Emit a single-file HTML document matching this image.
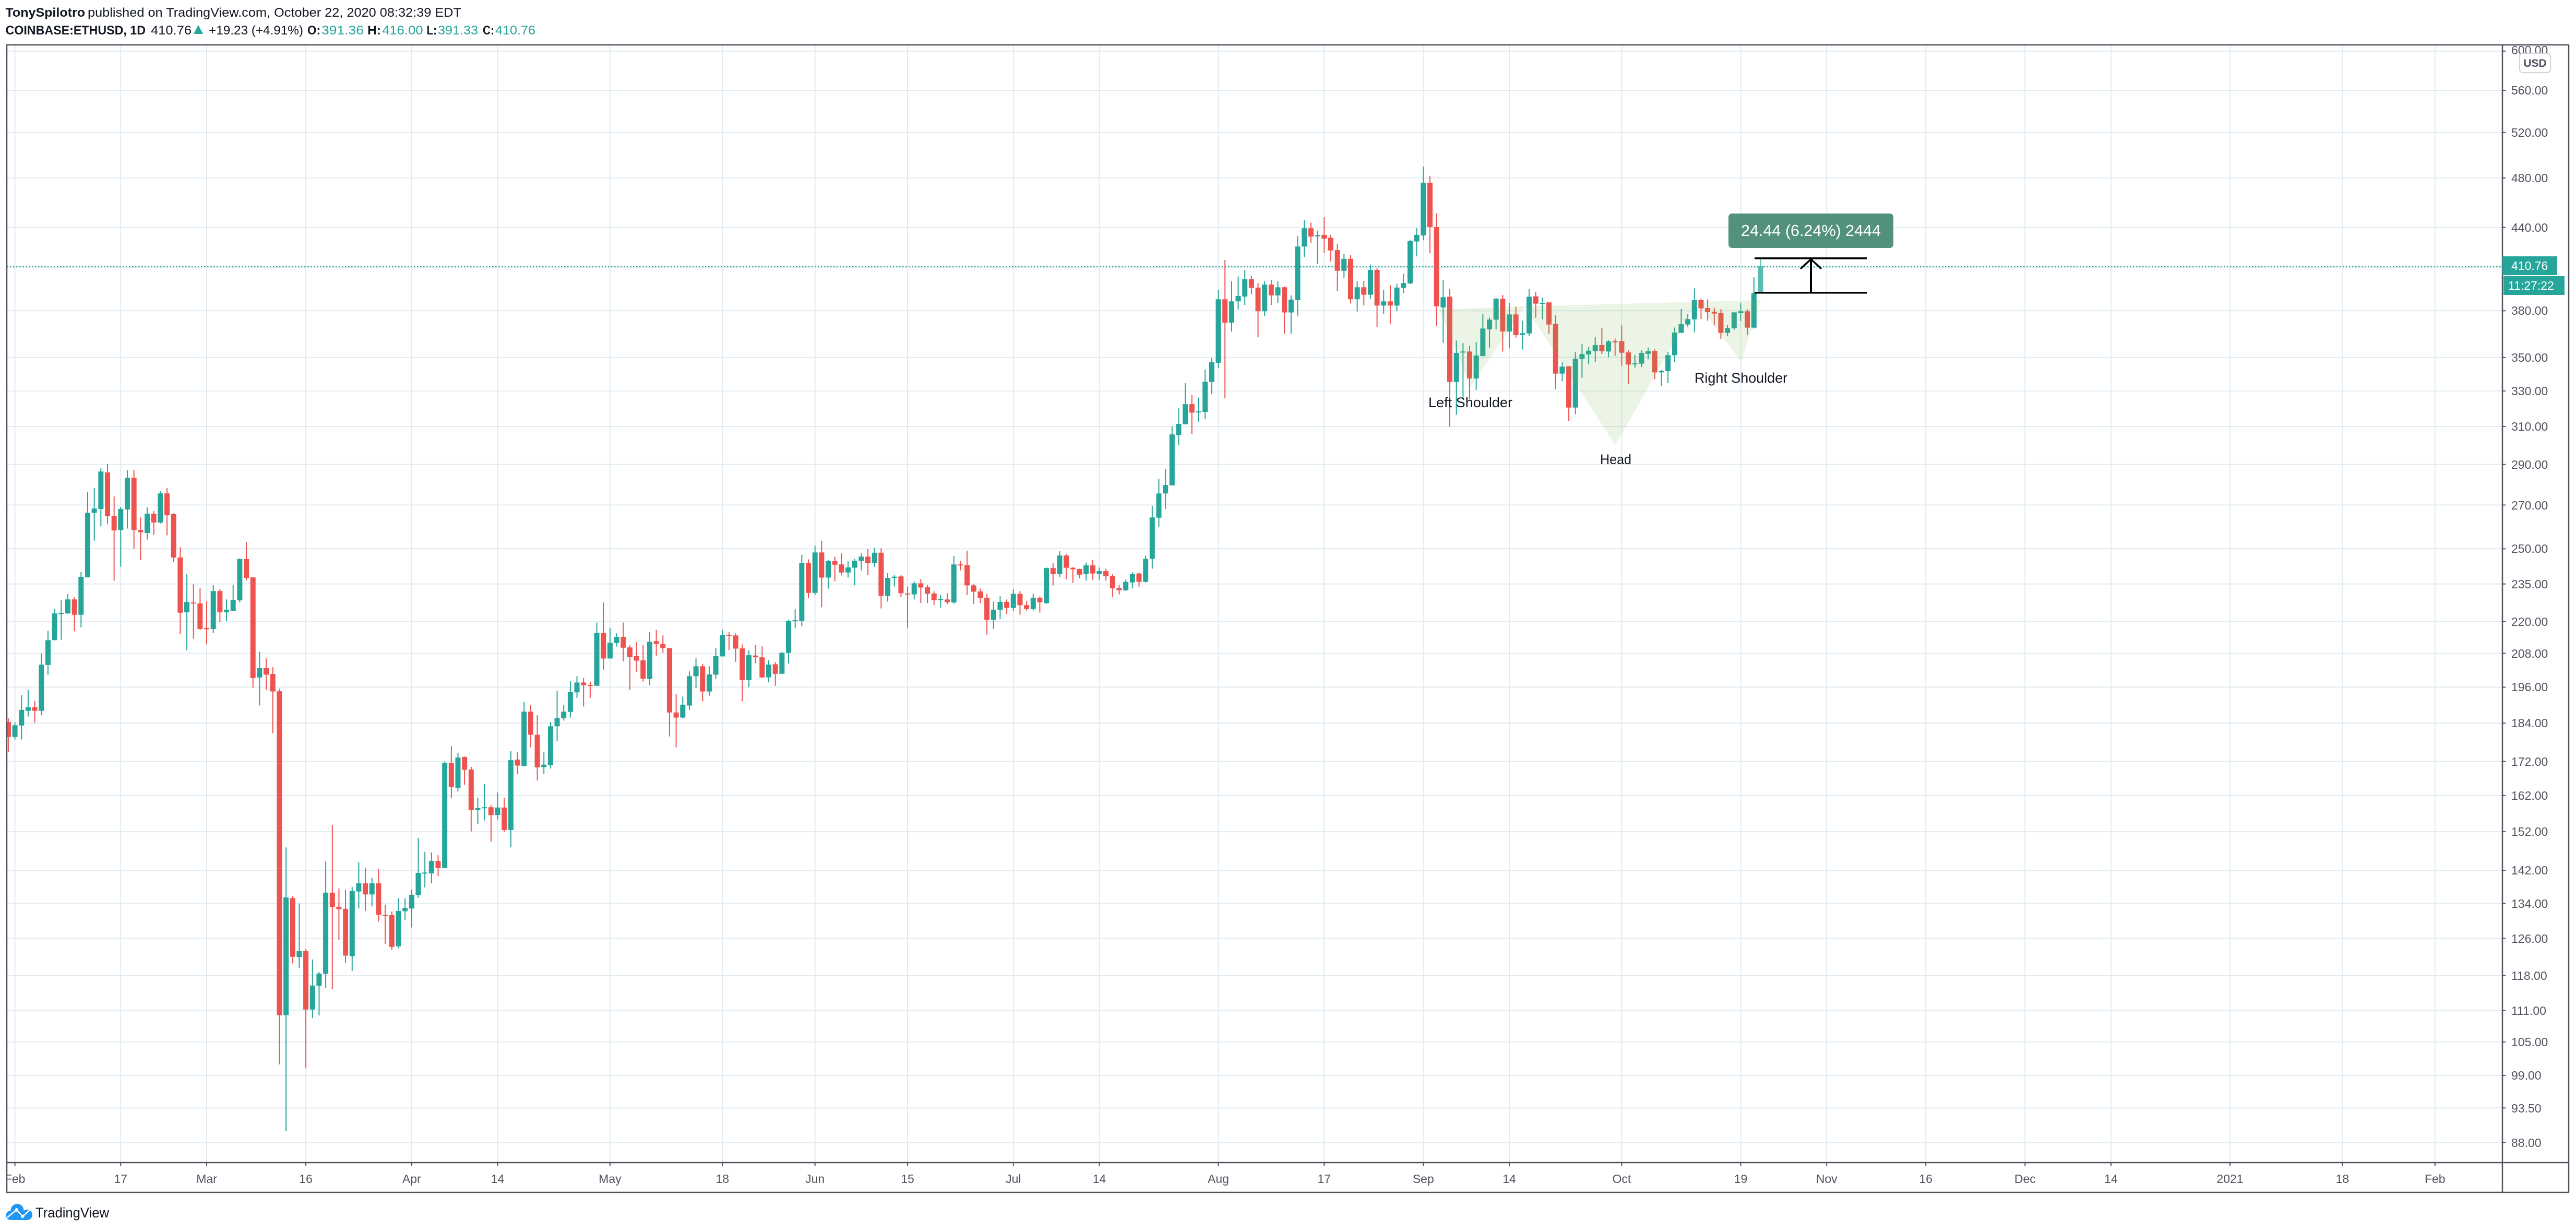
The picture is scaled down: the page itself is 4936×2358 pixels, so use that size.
<!DOCTYPE html>
<html>
<head>
<meta charset="utf-8">
<style>
html,body{margin:0;padding:0;background:#fff;}
svg{display:block;font-family:"Liberation Sans",Arial,sans-serif;}
</style>
</head>
<body>
<svg width="4936" height="2358" viewBox="0 0 4936 2358">
<defs>
<clipPath id="plot"><rect x="14" y="87" width="4780" height="2139"/></clipPath>
<clipPath id="taxis"><rect x="14" y="2228" width="4780" height="55"/></clipPath>
<clipPath id="paxis"><rect x="4796" y="87" width="125" height="2139"/></clipPath>
</defs>
<rect x="0" y="0" width="4936" height="2358" fill="#ffffff"/>

<!-- Header -->
<g font-size="24" fill="#131722">
<text x="10.5" y="32" font-weight="bold" textLength="152.5" lengthAdjust="spacingAndGlyphs">TonySpilotro</text>
<text x="168" y="32" textLength="716" lengthAdjust="spacingAndGlyphs">published on TradingView.com, October 22, 2020 08:32:39 EDT</text>
<text x="10.5" y="66" font-weight="bold" textLength="268.5" lengthAdjust="spacingAndGlyphs">COINBASE:ETHUSD, 1D</text>
<text x="289" y="66" textLength="78" lengthAdjust="spacingAndGlyphs">410.76</text>
<polygon points="371,65 389,65 380,48" fill="#26a69a"/>
<text x="400" y="66" textLength="181" lengthAdjust="spacingAndGlyphs">+19.23 (+4.91%)</text>
<text x="589" y="66" font-weight="bold" textLength="25" lengthAdjust="spacingAndGlyphs">O:</text>
<text x="616" y="66" fill="#26a69a" textLength="81" lengthAdjust="spacingAndGlyphs">391.36</text>
<text x="704" y="66" font-weight="bold" textLength="26" lengthAdjust="spacingAndGlyphs">H:</text>
<text x="732" y="66" fill="#26a69a" textLength="78.5" lengthAdjust="spacingAndGlyphs">416.00</text>
<text x="817.5" y="66" font-weight="bold" textLength="19.5" lengthAdjust="spacingAndGlyphs">L:</text>
<text x="839" y="66" fill="#26a69a" textLength="77" lengthAdjust="spacingAndGlyphs">391.33</text>
<text x="925" y="66" font-weight="bold" textLength="22" lengthAdjust="spacingAndGlyphs">C:</text>
<text x="949" y="66" fill="#26a69a" textLength="77" lengthAdjust="spacingAndGlyphs">410.76</text>
</g>

<!-- Grid -->
<g stroke="#e1ecf2" stroke-width="2" clip-path="url(#plot)">
<line x1="13" x2="4795" y1="97.9" y2="97.9"/>
<line x1="13" x2="4795" y1="173" y2="173"/>
<line x1="13" x2="4795" y1="253.7" y2="253.7"/>
<line x1="13" x2="4795" y1="340.9" y2="340.9"/>
<line x1="13" x2="4795" y1="435.6" y2="435.6"/>
<line x1="13" x2="4795" y1="512.5" y2="512.5"/>
<line x1="13" x2="4795" y1="595.3" y2="595.3"/>
<line x1="13" x2="4795" y1="684.8" y2="684.8"/>
<line x1="13" x2="4795" y1="748.9" y2="748.9"/>
<line x1="13" x2="4795" y1="817" y2="817"/>
<line x1="13" x2="4795" y1="889.6" y2="889.6"/>
<line x1="13" x2="4795" y1="967.4" y2="967.4"/>
<line x1="13" x2="4795" y1="1051.3" y2="1051.3"/>
<line x1="13" x2="4795" y1="1118.6" y2="1118.6"/>
<line x1="13" x2="4795" y1="1190.5" y2="1190.5"/>
<line x1="13" x2="4795" y1="1251.6" y2="1251.6"/>
<line x1="13" x2="4795" y1="1316.3" y2="1316.3"/>
<line x1="13" x2="4795" y1="1385.1" y2="1385.1"/>
<line x1="13" x2="4795" y1="1458.5" y2="1458.5"/>
<line x1="13" x2="4795" y1="1523.7" y2="1523.7"/>
<line x1="13" x2="4795" y1="1593.1" y2="1593.1"/>
<line x1="13" x2="4795" y1="1667.2" y2="1667.2"/>
<line x1="13" x2="4795" y1="1730.4" y2="1730.4"/>
<line x1="13" x2="4795" y1="1797.4" y2="1797.4"/>
<line x1="13" x2="4795" y1="1868.8" y2="1868.8"/>
<line x1="13" x2="4795" y1="1935.5" y2="1935.5"/>
<line x1="13" x2="4795" y1="1996" y2="1996"/>
<line x1="13" x2="4795" y1="2060.1" y2="2060.1"/>
<line x1="13" x2="4795" y1="2122.3" y2="2122.3"/>
<line x1="13" x2="4795" y1="2188.3" y2="2188.3"/>
<line y1="86" y2="2227" x1="28.6" x2="28.6"/>
<line y1="86" y2="2227" x1="231.3" x2="231.3"/>
<line y1="86" y2="2227" x1="396" x2="396"/>
<line y1="86" y2="2227" x1="586" x2="586"/>
<line y1="86" y2="2227" x1="788.8" x2="788.8"/>
<line y1="86" y2="2227" x1="953.5" x2="953.5"/>
<line y1="86" y2="2227" x1="1168.9" x2="1168.9"/>
<line y1="86" y2="2227" x1="1384.3" x2="1384.3"/>
<line y1="86" y2="2227" x1="1561.7" x2="1561.7"/>
<line y1="86" y2="2227" x1="1739" x2="1739"/>
<line y1="86" y2="2227" x1="1941.8" x2="1941.8"/>
<line y1="86" y2="2227" x1="2106.5" x2="2106.5"/>
<line y1="86" y2="2227" x1="2334.5" x2="2334.5"/>
<line y1="86" y2="2227" x1="2537.3" x2="2537.3"/>
<line y1="86" y2="2227" x1="2727.3" x2="2727.3"/>
<line y1="86" y2="2227" x1="2892" x2="2892"/>
<line y1="86" y2="2227" x1="3107.4" x2="3107.4"/>
<line y1="86" y2="2227" x1="3335.5" x2="3335.5"/>
<line y1="86" y2="2227" x1="3500.2" x2="3500.2"/>
<line y1="86" y2="2227" x1="3690.2" x2="3690.2"/>
<line y1="86" y2="2227" x1="3880.3" x2="3880.3"/>
<line y1="86" y2="2227" x1="4045" x2="4045"/>
<line y1="86" y2="2227" x1="4273" x2="4273"/>
<line y1="86" y2="2227" x1="4488.4" x2="4488.4"/>
<line y1="86" y2="2227" x1="4665.8" x2="4665.8"/>
</g>

<!-- Current price dotted line -->
<line x1="13" x2="4795" y1="510.5" y2="510.5" stroke="#26a69a" stroke-width="2.5" stroke-dasharray="2.5 3.5" clip-path="url(#plot)"/>

<!-- Candles (generated) -->
<g id="candles" clip-path="url(#plot)"></g>

<!-- Head & Shoulders pattern -->
<g fill="rgba(110,180,70,0.14)" clip-path="url(#plot)">
<polygon points="2757.7,592.3 2817.3,741.7 2922,586.7"/>
<polygon points="2922,586.7 3095.4,852.7 3251,578.3"/>
<polygon points="3251,578.3 3336.7,693.3 3373.5,575"/>
</g>
<g font-size="27" fill="#131722">
<text x="2737" y="780" textLength="161" lengthAdjust="spacingAndGlyphs">Left Shoulder</text>
<text x="3066" y="889" textLength="60" lengthAdjust="spacingAndGlyphs">Head</text>
<text x="3247" y="733" textLength="178" lengthAdjust="spacingAndGlyphs">Right Shoulder</text>
</g>

<!-- Measure tool -->
<g stroke="#000" fill="none">
<line x1="3362" x2="3577" y1="494.7" y2="494.7" stroke-width="3.5"/>
<line x1="3362" x2="3577" y1="560.7" y2="560.7" stroke-width="3.5"/>
<line x1="3470" x2="3470" y1="495" y2="560.7" stroke-width="4"/>
<polyline points="3450,515 3470,496.5 3490,515" stroke-width="3.5"/>
</g>
<rect x="3312" y="409" width="316" height="66" rx="7" fill="#52917c"/>
<text x="3470" y="452" font-size="31" fill="#ffffff" text-anchor="middle" textLength="268" lengthAdjust="spacingAndGlyphs">24.44 (6.24%) 2444</text>

<!-- Frame -->
<g stroke="#50535e" stroke-width="2.5" fill="none">
<line x1="12" x2="4923" y1="86" y2="86"/>
<line x1="13" x2="13" y1="86" y2="2284"/>
<line x1="4922" x2="4922" y1="86" y2="2284"/>
<line x1="12" x2="4923" y1="2284" y2="2284"/>
<line x1="4795" x2="4795" y1="86" y2="2284"/>
<line x1="13" x2="4922" y1="2227" y2="2227"/>
</g>

<!-- Price axis ticks and labels -->
<g stroke="#50535e" stroke-width="2">
<line x1="4795" x2="4801" y1="97.9" y2="97.9"/>
<line x1="4795" x2="4801" y1="173" y2="173"/>
<line x1="4795" x2="4801" y1="253.7" y2="253.7"/>
<line x1="4795" x2="4801" y1="340.9" y2="340.9"/>
<line x1="4795" x2="4801" y1="435.6" y2="435.6"/>
<line x1="4795" x2="4801" y1="595.3" y2="595.3"/>
<line x1="4795" x2="4801" y1="684.8" y2="684.8"/>
<line x1="4795" x2="4801" y1="748.9" y2="748.9"/>
<line x1="4795" x2="4801" y1="817" y2="817"/>
<line x1="4795" x2="4801" y1="889.6" y2="889.6"/>
<line x1="4795" x2="4801" y1="967.4" y2="967.4"/>
<line x1="4795" x2="4801" y1="1051.3" y2="1051.3"/>
<line x1="4795" x2="4801" y1="1118.6" y2="1118.6"/>
<line x1="4795" x2="4801" y1="1190.5" y2="1190.5"/>
<line x1="4795" x2="4801" y1="1251.6" y2="1251.6"/>
<line x1="4795" x2="4801" y1="1316.3" y2="1316.3"/>
<line x1="4795" x2="4801" y1="1385.1" y2="1385.1"/>
<line x1="4795" x2="4801" y1="1458.5" y2="1458.5"/>
<line x1="4795" x2="4801" y1="1523.7" y2="1523.7"/>
<line x1="4795" x2="4801" y1="1593.1" y2="1593.1"/>
<line x1="4795" x2="4801" y1="1667.2" y2="1667.2"/>
<line x1="4795" x2="4801" y1="1730.4" y2="1730.4"/>
<line x1="4795" x2="4801" y1="1797.4" y2="1797.4"/>
<line x1="4795" x2="4801" y1="1868.8" y2="1868.8"/>
<line x1="4795" x2="4801" y1="1935.5" y2="1935.5"/>
<line x1="4795" x2="4801" y1="1996" y2="1996"/>
<line x1="4795" x2="4801" y1="2060.1" y2="2060.1"/>
<line x1="4795" x2="4801" y1="2122.3" y2="2122.3"/>
<line x1="4795" x2="4801" y1="2188.3" y2="2188.3"/>
</g>
<g font-size="23" fill="#50535e" clip-path="url(#paxis)">
<text x="4812" y="104">600.00</text>
<text x="4812" y="181">560.00</text>
<text x="4812" y="262">520.00</text>
<text x="4812" y="349">480.00</text>
<text x="4812" y="444">440.00</text>
<text x="4812" y="603">380.00</text>
<text x="4812" y="693">350.00</text>
<text x="4812" y="757">330.00</text>
<text x="4812" y="825">310.00</text>
<text x="4812" y="898">290.00</text>
<text x="4812" y="976">270.00</text>
<text x="4812" y="1059">250.00</text>
<text x="4812" y="1127">235.00</text>
<text x="4812" y="1199">220.00</text>
<text x="4812" y="1260">208.00</text>
<text x="4812" y="1324">196.00</text>
<text x="4812" y="1393">184.00</text>
<text x="4812" y="1467">172.00</text>
<text x="4812" y="1532">162.00</text>
<text x="4812" y="1601">152.00</text>
<text x="4812" y="1675">142.00</text>
<text x="4812" y="1739">134.00</text>
<text x="4812" y="1806">126.00</text>
<text x="4812" y="1877">118.00</text>
<text x="4812" y="1944">111.00</text>
<text x="4812" y="2004">105.00</text>
<text x="4812" y="2068">99.00</text>
<text x="4812" y="2131">93.50</text>
<text x="4812" y="2197">88.00</text>
</g>
<!-- USD badge -->
<rect x="4828" y="102" width="59" height="37" rx="6" fill="#ffffff" stroke="#d1d4dc" stroke-width="2"/>
<text x="4857.5" y="128" font-size="21" font-weight="bold" fill="#50535e" text-anchor="middle">USD</text>
<!-- Last price labels -->
<rect x="4795" y="491" width="105" height="36" fill="#26a69a"/>
<text x="4812" y="517" font-size="23" fill="#ffffff">410.76</text>
<rect x="4797" y="529" width="117" height="36" fill="#26a69a"/>
<text x="4806" y="555" font-size="23" fill="#ffffff">11:27:22</text>

<!-- Time axis -->
<g stroke="#50535e" stroke-width="2">
<line y1="2227" y2="2233" x1="28.6" x2="28.6"/>
<line y1="2227" y2="2233" x1="231.3" x2="231.3"/>
<line y1="2227" y2="2233" x1="396" x2="396"/>
<line y1="2227" y2="2233" x1="586" x2="586"/>
<line y1="2227" y2="2233" x1="788.8" x2="788.8"/>
<line y1="2227" y2="2233" x1="953.5" x2="953.5"/>
<line y1="2227" y2="2233" x1="1168.9" x2="1168.9"/>
<line y1="2227" y2="2233" x1="1384.3" x2="1384.3"/>
<line y1="2227" y2="2233" x1="1561.7" x2="1561.7"/>
<line y1="2227" y2="2233" x1="1739" x2="1739"/>
<line y1="2227" y2="2233" x1="1941.8" x2="1941.8"/>
<line y1="2227" y2="2233" x1="2106.5" x2="2106.5"/>
<line y1="2227" y2="2233" x1="2334.5" x2="2334.5"/>
<line y1="2227" y2="2233" x1="2537.3" x2="2537.3"/>
<line y1="2227" y2="2233" x1="2727.3" x2="2727.3"/>
<line y1="2227" y2="2233" x1="2892" x2="2892"/>
<line y1="2227" y2="2233" x1="3107.4" x2="3107.4"/>
<line y1="2227" y2="2233" x1="3335.5" x2="3335.5"/>
<line y1="2227" y2="2233" x1="3500.2" x2="3500.2"/>
<line y1="2227" y2="2233" x1="3690.2" x2="3690.2"/>
<line y1="2227" y2="2233" x1="3880.3" x2="3880.3"/>
<line y1="2227" y2="2233" x1="4045" x2="4045"/>
<line y1="2227" y2="2233" x1="4273" x2="4273"/>
<line y1="2227" y2="2233" x1="4488.4" x2="4488.4"/>
<line y1="2227" y2="2233" x1="4665.8" x2="4665.8"/>
</g>
<g font-size="23" fill="#50535e" text-anchor="middle" clip-path="url(#taxis)">
<text x="28.6" y="2266">Feb</text>
<text x="231.3" y="2266">17</text>
<text x="396" y="2266">Mar</text>
<text x="586" y="2266">16</text>
<text x="788.8" y="2266">Apr</text>
<text x="953.5" y="2266">14</text>
<text x="1168.9" y="2266">May</text>
<text x="1384.3" y="2266">18</text>
<text x="1561.7" y="2266">Jun</text>
<text x="1739" y="2266">15</text>
<text x="1941.8" y="2266">Jul</text>
<text x="2106.5" y="2266">14</text>
<text x="2334.5" y="2266">Aug</text>
<text x="2537.3" y="2266">17</text>
<text x="2727.3" y="2266">Sep</text>
<text x="2892" y="2266">14</text>
<text x="3107.4" y="2266">Oct</text>
<text x="3335.5" y="2266">19</text>
<text x="3500.2" y="2266">Nov</text>
<text x="3690.2" y="2266">16</text>
<text x="3880.3" y="2266">Dec</text>
<text x="4045" y="2266">14</text>
<text x="4273" y="2266">2021</text>
<text x="4488.4" y="2266">18</text>
<text x="4665.8" y="2266">Feb</text>
</g>

<!-- TradingView logo -->
<g fill="#2196f3">
<circle cx="33" cy="2318.5" r="12.5"/>
<circle cx="20.5" cy="2328" r="9"/>
<circle cx="52" cy="2327" r="10"/>
<rect x="20" y="2322" width="33" height="15"/>
</g>
<polyline points="14,2332 31.7,2317.5 43.3,2330 58.3,2317" fill="none" stroke="#ffffff" stroke-width="2.5"/>
<circle cx="31.7" cy="2317.5" r="3.2" fill="#ffffff"/>
<circle cx="43.3" cy="2330" r="3.2" fill="#ffffff"/>
<text x="68" y="2332" font-size="27" fill="#131722" textLength="141" lengthAdjust="spacingAndGlyphs">TradingView</text>
</svg>

<script>
(function(){
var g=document.getElementById('candles');
var groups=[
[800,2.24,-1,"R 1290 1306 1370 1435|G 1308 1320 1370 1381|G 1190 1254 1321 1381|G 1167 1242 1258 1283|R 1216 1242 1258 1309|G 1012 1060 1258 1276|G 914 955 1061 1103|G 822 840 955 955|G 784 838 841 953|G 757 780 840 842|R 771 780 846 917|G 663 683 846 900|G 320 408 685 685|G 302 390 408 528|G 217 231 392 467|R 199 235 423 456|R 338 421 484 700|G 383 392 482 640|G 226 258 394 476|R 224 258 482 563|R 428 482 492 611|G 385 412 495 523|R 401 412 450 503|G 316 325 450 454|R 302 325 419 505|R 410 414 600 619|R 556 600 837 929|G 672 791 835 998|R 715 793 797 949|R 732 797 907 911|R 788 903 908 973|G 719 744 907 924|R 735 744 835 877|G 780 824 835 873|G 719 782 829 829|G 604 607 784 792|R 533 607 688 698|R 685 685 1117 1159|G 1004 1075 1115 1235|R 1033 1075 1103 1168|R 1071 1100 1175 1354"],
[1300,1.742,40,"R 33 42 1123 1287|G 563 730 1123 1510|R 725 732 928 950|G 750 909 929 965|R 902 909 1104 1300|G 937 1024 1104 1133|G 979 984 1025 1124|G 610 714 985 1032|R 488 714 762 1036|R 700 761 769 872|R 704 768 924 949|G 695 709 926 975|G 613 683 710 767|R 631 683 720 775|G 664 683 720 760|R 634 683 788 811|R 754 788 790 885|R 777 789 895 905|G 732 775 893 900|G 733 765 776 805|G 704 721 767 830|G 531 648 722 731|G 578 647 650 697|G 580 608 650 683|R 589 608 632 659|G 276 282 632 632|R 225 282 362 399|G 247 263 364 376|R 260 261 304 354|R 294 303 438 510|G 397 432 438 486|G 352 429 432 473|R 422 429 455 544|G 380 430 455 470|R 397 430 505 511|G 242 272 505 563|R 244 270 290 319|G 77 110 291 293|R 89 110 187 229|R 122 187 296 340|G 246 287 295 318|G 145 159 289 300|G 40 131 159 208|G 89 110 132 140|G 7 45 111 130"],
[700,1.742,85,"G 1037 1058 1091 1109|R 1042 1058 1067 1138|R 1055 1066 1069 1109|G 858 892 1069 1069|R 791 892 978 1015|G 876 925 978 978|G 894 906 926 938|R 858 906 942 987|R 934 941 973 1083|R 923 970 985 1023|R 932 984 1045 1055|G 890 922 1046 1067|R 882 920 929 969|R 901 929 943 959|R 943 943 1158 1238|R 1096 1158 1175 1274|G 1105 1132 1175 1178|G 1021 1037 1135 1150|G 977 1004 1037 1077|R 996 1004 1088 1121|G 1004 1031 1088 1102|G 943 970 1032 1046|G 882 899 971 971|R 890 899 901 950|R 894 901 945 989|R 931 944 1050 1121|G 950 967 1050 1074|R 932 968 974 994|R 937 974 1041 1043|G 983 998 1041 1057|R 990 997 1029 1069|G 957 959 1029 1029|G 848 852 959 994|G 814 850 852 877|G 632 659 852 870|R 647 659 759 776|G 602 624 759 766|R 585 624 708 807|G 648 653 708 745|R 638 653 665 720|R 627 664 691 701|G 654 674 691 708|G 645 652 675 734|G 627 638 652 684|R 612 638 659 699|G 608 625 659 673|R 610 625 769 811|G 693 709 769 788|G 700 705 709 738|R 700 704 760 773|R 738 761 763 875|G 721 727 764 781|R 713 727 741 793|R 733 740 762 793|R 754 761 783 800|G 766 779 783 808|R 760 781 790 797|G 636 664 791 795|R 652 664 666 684|R 618 666 734 766|R 729 734 755 796|R 744 754 776 793|R 762 775 849 898|G 788 815 849 879|G 770 789 815 847|R 781 789 809 830|G 747 762 809 820|R 753 762 800 832|R 786 800 812 818|G 762 775 813 818|R 771 775 790 825"],
[300,1.742,156,"G 1371 1373 1490 1492|R 1357 1373 1393 1431|G 1317 1331 1393 1403|R 1326 1331 1372 1410|R 1370 1372 1377 1422|R 1375 1376 1395 1407|G 1355 1364 1393 1415|R 1345 1364 1391 1413|G 1371 1383 1392 1413|R 1375 1383 1400 1415|R 1393 1399 1440 1469|R 1430 1439 1447 1461|G 1411 1419 1447 1449|G 1387 1393 1421 1441|R 1388 1391 1419 1436|G 1331 1342 1419 1421|G 1166 1204 1342 1375|G 1075 1124 1205 1235|G 1042 1096 1124 1176|G 901 927 1097 1097|G 839 892 929 963|G 756 826 893 893|R 796 826 854 925|G 804 850 853 885|G 711 751 852 875|G 671 686 752 793|G 444 476 688 706|R 345 476 554 807|G 416 483 554 584|G 400 465 483 510|G 378 409 467 495|R 398 409 438 460|R 422 437 516 603|G 416 427 516 532|R 411 427 463 495|G 416 436 463 488|R 433 436 520 591|G 463 477 520 591|G 265 300 479 533|G 211 239 300 336|R 220 239 267 288|G 247 262 266 359|R 202 261 274 322|R 261 271 313 350|R 291 312 381 448|G 324 341 381 405|R 328 341 476 490|G 416 436 476 517|R 415 436 461 497|G 360 378 461 475|R 372 378 497 568|G 446 483 497 526|R 429 483 497 558|G 424 437 497 516|G 390 422 438 455|G 279 282 423 425|G 239 261 283 333|G 33 87 263 279|R 64 87 235 322"],
[380,3,215,"R 85 165 620 735|G 470 568 627 830|R 522 565 1055 1312|G 817 888 1055 1244|G 832 880 886 1150|R 847 880 1035 1152|G 826 903 1035 1100|G 663 748 906 908|G 685 697 752 860|G 573 577 697 752|R 555 577 765 880|G 603 667 765 862|R 623 667 785 800|G 703 775 785 869|G 520 565 776 790|R 538 563 605 686|G 570 600 605 695|R 597 598 725 778|R 672 720 1007 1097|G 942 967 1007 1051|R 963 965 1202 1280|G 883 921 1202 1240|G 838 895 923 1030|G 853 875 897 953|G 796 843 877 940|R 745 843 878 895|G 815 822 880 913|R 806 820 827 905|R 730 820 887 962|R 873 885 955 1067|G 900 948 952 973|G 873 888 950 970|G 857 879 893 925|R 865 877 1000 1040|G 985 991 1000 1078|G 883 901 993 1062|G 742 771 901 940|G 636 723 773 773|G 666 694 725 740|G 517 585 695 770|R 577 585 632 693|R 580 630 654 703|R 628 652 662 730|R 637 660 773 808|G 727 745 773 790|G 655 655 746 755|G 603 649 660 705|R 637 649 743 785|G 453 545 743 748|G 350 387 543 543"]
];
var out=[];
groups.forEach(function(gr){
  var y0=gr[0],s=gr[1],d=gr[2];
  gr[3].split('|').forEach(function(row){
    var p=row.trim().split(/\s+/);
    var h=y0+(+p[1])/s,t=y0+(+p[2])/s,b=y0+(+p[3])/s,l=y0+(+p[4])/s;
    var x=28.6+12.67*d;
    var col=p[0]==='G'?'#26a69a':'#ef5350';
    if(d===264)col='#5cbbb1';
    out.push('<rect x="'+(x-1).toFixed(2)+'" y="'+h.toFixed(2)+'" width="2" height="'+Math.max(0,l-h).toFixed(2)+'" fill="'+col+'"/>');
    out.push('<rect x="'+(x-5).toFixed(2)+'" y="'+t.toFixed(2)+'" width="10" height="'+Math.max(2,b-t).toFixed(2)+'" fill="'+col+'"/>');
    d++;
  });
});
g.innerHTML=out.join('');
})();
</script>
</body>
</html>
